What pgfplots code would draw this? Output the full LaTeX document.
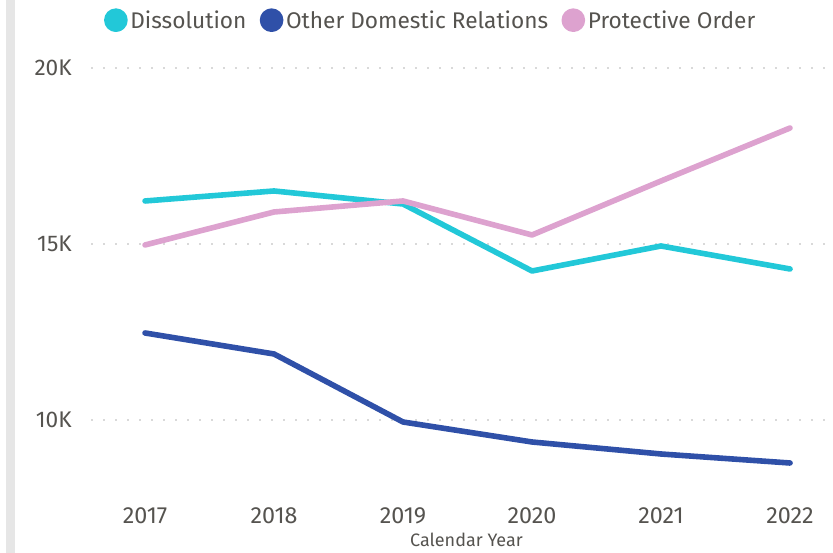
\documentclass[border=0pt]{standalone}
\usepackage{fontspec}
\setmainfont{Fira Sans}
\usepackage{pgfplots}
\pgfplotsset{compat=1.18}
\definecolor{diss}{HTML}{22C8D8}
\definecolor{other}{HTML}{2F50A8}
\definecolor{prot}{HTML}{DDA2CF}
\definecolor{txt}{HTML}{55534F}
\definecolor{bar}{HTML}{E6E6E6}
\begin{document}
\begin{tikzpicture}
\useasboundingbox (0pt,0pt) rectangle (624.75pt,414.75pt);
\fill[bar] (4.5pt,0pt) rectangle (11.25pt,414.75pt);
\begin{axis}[
  at={(69pt,43.5pt)}, anchor=south west,
  scale only axis, width=555.75pt, height=333.75pt,
  xmin=2016.589, xmax=2022.333, ymin=7869, ymax=20511,
  scaled y ticks=false, scaled x ticks=false,
  axis line style={draw=none}, tick style={draw=none},
  ymajorgrids, grid style={color=black!30, line width=1.3pt, line cap=round, dash pattern=on 0pt off 9pt},
  ytick={10000,15000,20000}, yticklabels={10K,15K,20K},
  xtick={2017,2018,2019,2020,2021,2022}, xticklabels={2017,2018,2019,2020,2021,2022},
  yticklabel style={font=\fontsize{17}{20}\selectfont, text=txt, anchor=east, inner sep=0pt, xshift=-15pt},
  xticklabel style={font=\fontsize{17.5}{20}\selectfont, text=txt, anchor=north, inner sep=0pt, yshift=-9pt},
  xlabel={Calendar Year},
  xlabel style={font=\fontsize{13.5}{15}\selectfont, text=txt, inner sep=0pt, at={(axis description cs:0.5,0)}, anchor=north, yshift=-28.5pt, xshift=3pt},
  legend columns=3,
  legend style={at={(axis description cs:0.4575,1.067)}, anchor=center, draw=none, fill=none,
    font=\fontsize{17}{20}\selectfont, text=txt, inner sep=0pt,
    /tikz/every even column/.append style={column sep=8pt}},
  legend image code/.code={\fill[#1] (3pt,0pt) circle (6.75pt);},
  every axis plot/.append style={line width=4.2pt, line join=round, line cap=round},
]
\addplot[diss] coordinates {(2017,16222) (2018,16506) (2019,16136) (2020,14233) (2021,14943) (2022,14290)};
\addlegendentry{Dissolution}
\addplot[other] coordinates {(2017,12472) (2018,11875) (2019,9943) (2020,9375) (2021,9034) (2022,8778)};
\addlegendentry{Other Domestic Relations}
\addplot[prot] coordinates {(2017,14972) (2018,15909) (2019,16222) (2020,15256) (2021,16790) (2022,18295)};
\addlegendentry{Protective Order}
\end{axis}
\end{tikzpicture}
\end{document}
